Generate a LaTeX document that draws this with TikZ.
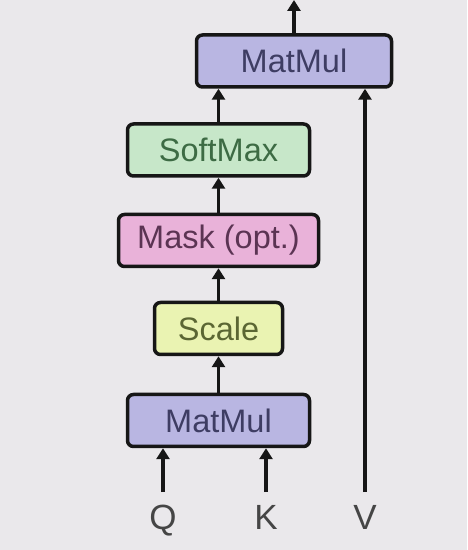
\documentclass[tikz,border=0pt]{standalone}
\usepackage{fontspec}
\setsansfont{Liberation Sans}
\usetikzlibrary{arrows.meta, positioning}
\definecolor{cbg}{HTML}{EAE8EB}
\definecolor{cedge}{HTML}{161616}
\definecolor{cmat}{HTML}{B9B6E2}
\definecolor{cmattxt}{HTML}{3E3D63}
\definecolor{csoft}{HTML}{C7E7C9}
\definecolor{csofttxt}{HTML}{3D6B44}
\definecolor{cmask}{HTML}{E9B2D9}
\definecolor{cmasktxt}{HTML}{5B3453}
\definecolor{cscale}{HTML}{EAF3B2}
\definecolor{cscaletxt}{HTML}{5B6633}
\tikzset{
  every picture/.style={font=\sffamily, line width=3.5pt},
  opbox/.style 2 args={draw=cedge, fill=#1, text=#2, rounded corners=6pt,
    minimum height=52pt, inner sep=0pt, font=\sffamily\fontsize{32.5}{38}\selectfont},
  arrow/.style={-{Triangle[length=11pt, width=13pt]}, draw=cedge, line width=3.5pt},
  inlabel/.style={text=cedge!80, anchor=base, text height=25pt, text depth=0pt,
    inner xsep=2pt, inner ysep=11pt, font=\sffamily\fontsize{35}{40}\selectfont},
}
\begin{document}
\begin{tikzpicture}[x=1pt, y=1pt]
  \fill[cbg] (0,0) rectangle (467,550);
  \useasboundingbox (0,0) rectangle (467,550);
  % the operations
  \node[opbox={cmat}{cmattxt}, minimum width=195pt] (mmtop) at (294,489) {MatMul};
  \node[opbox={csoft}{csofttxt}, minimum width=182pt] (softmax) at (218.5,400) {SoftMax};
  \node[opbox={cmask}{cmasktxt}, minimum width=200pt] (mask) at (218.5,309.5) {Mask (opt.)};
  \node[opbox={cscale}{cscaletxt}, minimum width=128pt] (scale) at (218.5,221.5) {Scale};
  \node[opbox={cmat}{cmattxt}, minimum width=182pt] (mmbot) at (218.5,129.5) {MatMul};
  % inputs
  \node[inlabel] (q) at (163,20) {Q};
  \node[inlabel] (k) at (266,20) {K};
  \node[inlabel] (v) at (365,20) {V};
  \coordinate (out) at (294,550);
  \draw[arrow] (q.north) -- (q.north |- mmbot.south);
  \draw[arrow] (k.north) -- (k.north |- mmbot.south);
  \draw[arrow] (mmbot) -- (scale);
  \draw[arrow] (scale) -- (mask);
  \draw[arrow] (mask) -- (softmax);
  \draw[arrow] (softmax.north) -- (softmax.north |- mmtop.south);
  \draw[arrow] (v.north) -- (v.north |- mmtop.south);
  \draw[arrow] (mmtop) -- (out);
\end{tikzpicture}
\end{document}
